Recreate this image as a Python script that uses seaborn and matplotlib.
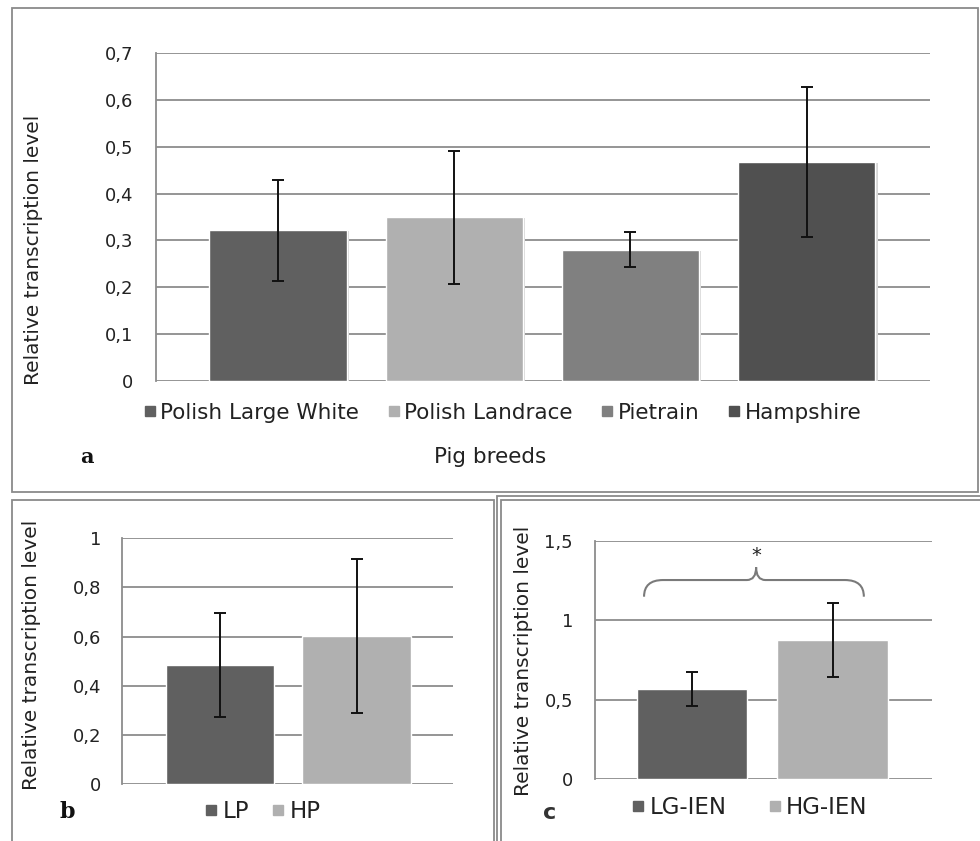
import matplotlib
matplotlib.use("Agg")
import matplotlib.pyplot as plt
import seaborn as sns
from matplotlib.lines import Line2D
from matplotlib.patches import Rectangle, PathPatch
from matplotlib.path import Path
from matplotlib import patheffects as pe

# ---------------- data ----------------
breeds = ["Polish Large White", "Polish Landrace", "Pietrain", "Hampshire"]
breed_vals = [0.322, 0.349, 0.280, 0.467]
breed_err = [0.108, 0.143, 0.037, 0.160]
breed_colors = ["#606060", "#b0b0b0", "#808080", "#505050"]
yticks_a = [0, 0.1, 0.2, 0.3, 0.4, 0.5, 0.6, 0.7]
ylabels_a = ["0", "0,1", "0,2", "0,3", "0,4", "0,5", "0,6", "0,7"]

groups_b = ["LP", "HP"]
vals_b = [0.483, 0.602]
err_b = [0.212, 0.313]
colors_b = ["#606060", "#b0b0b0"]
yticks_b = [0, 0.2, 0.4, 0.6, 0.8, 1.0]
ylabels_b = ["0", "0,2", "0,4", "0,6", "0,8", "1"]

groups_c = ["LG-IEN", "HG-IEN"]
vals_c = [0.567, 0.876]
err_c = [0.110, 0.231]
colors_c = ["#606060", "#b0b0b0"]
yticks_c = [0, 0.5, 1.0, 1.5]
ylabels_c = ["0", "0,5", "1", "1,5"]

ylab = "Relative transcription level"

# ---------------- figure ----------------
sns.set_theme(style="white")
plt.rcParams["font.family"] = ["DejaVu Sans"]
W, H = 980, 841
fig = plt.figure(figsize=(W / 100, H / 100), dpi=100)
fig.patch.set_facecolor("white")

def fx(px):
    return px / W

def fy(py):
    return 1 - py / H

def ax_rect(l, t, r, b):
    return [fx(l), fy(b), fx(r) - fx(l), fy(t) - fy(b)]

GRID = "#8c8c8c"
TXT = "#222222"

# panel frames
def frame(l, t, r, b):
    fig.patches.append(Rectangle((fx(l), fy(b)), fx(r) - fx(l), fy(t) - fy(b),
                                 transform=fig.transFigure, fill=False,
                                 edgecolor="#8a8a8a", linewidth=1.3))

frame(12, 8, 978, 492)
frame(12, 500, 494, 845)
frame(497, 496, 985, 845)
frame(501, 500, 985, 845)


def style_axis(ax, yticks, ylabels, ylim, xlim, fs, pad):
    ax.set_ylim(*ylim)
    ax.set_xlim(*xlim)
    ax.set_yticks(yticks)
    ax.set_yticklabels(ylabels, fontsize=fs, color=TXT)
    ax.set_xticks([])
    ax.set_xlabel("")
    ax.tick_params(axis="y", length=0, pad=pad)
    ax.yaxis.grid(True, color=GRID, linewidth=1.3)
    ax.set_axisbelow(True)
    for s in ["top", "right", "bottom"]:
        ax.spines[s].set_visible(False)
    ax.spines["left"].set_color(GRID)
    ax.spines["left"].set_linewidth(1.3)
    ax.set_facecolor("white")


def draw_bars(ax, cats, vals, errs, colors, width, shadow=False):
    sns.barplot(x=cats, y=vals, hue=cats, palette=colors, width=width,
                saturation=1, legend=False, ax=ax, order=cats, hue_order=cats,
                edgecolor="white", linewidth=1.0)
    if shadow:
        for p in ax.patches:
            p.set_path_effects([pe.SimplePatchShadow(offset=(1.6, -0.6),
                                                     shadow_rgbFace="#d6d6d6", alpha=1.0),
                                pe.Normal()])
    ax.errorbar(range(len(cats)), vals, yerr=errs, fmt="none", ecolor="#111111",
                elinewidth=1.4, capsize=4, capthick=1.4, zorder=5)


def square_handles(colors):
    return [Line2D([], [], marker="s", linestyle="none", markersize=7,
                   markerfacecolor=c, markeredgecolor=c) for c in colors]

# ---------------- panel a ----------------
axa = fig.add_axes(ax_rect(155.7, 53.3, 930, 380.7))
draw_bars(axa, breeds, breed_vals, breed_err, breed_colors, 0.78, shadow=True)
style_axis(axa, yticks_a, ylabels_a, (0, 0.7), (-0.695, 3.70), 13, 16)
axa.set_ylabel(ylab, fontsize=14.5, color=TXT)
axa.yaxis.set_label_coords(-0.145, 0.40)
leg = axa.legend(square_handles(breed_colors), breeds, loc="center",
                 bbox_to_anchor=(fx(503), fy(413)), bbox_transform=fig.transFigure,
                 ncol=4, frameon=False, fontsize=15.5, handlelength=0.5,
                 handletextpad=0.25, columnspacing=1.35)
for t in leg.get_texts():
    t.set_color(TXT)
fig.text(fx(490), fy(457), "Pig breeds", ha="center", va="center", fontsize=15.5, color=TXT)
fig.text(fx(87), fy(457), "a", ha="center", va="center", fontsize=15,
         fontweight="bold", family="DejaVu Serif", color="#111111")

# ---------------- panel b ----------------
axb = fig.add_axes(ax_rect(122, 538.3, 453, 784))
draw_bars(axb, groups_b, vals_b, err_b, colors_b, 0.796)
style_axis(axb, yticks_b, ylabels_b, (0, 1.0), (-0.717, 1.706), 13, 15)
axb.set_ylabel(ylab, fontsize=14.5, color=TXT)
axb.yaxis.set_label_coords(-0.245, 0.525)
legb = axb.legend(square_handles(colors_b), groups_b, loc="center",
                  bbox_to_anchor=(fx(263), fy(812)), bbox_transform=fig.transFigure,
                  ncol=2, frameon=False, fontsize=16.5, handlelength=0.5,
                  handletextpad=0.25, columnspacing=1.0)
for t in legb.get_texts():
    t.set_color(TXT)
fig.text(fx(67), fy(812), "b", ha="center", va="center", fontsize=16,
         fontweight="bold", family="DejaVu Serif", color="#111111")

# ---------------- panel c ----------------
axc = fig.add_axes(ax_rect(595.3, 541, 931.7, 779))
draw_bars(axc, groups_c, vals_c, err_c, colors_c, 0.786)
style_axis(axc, yticks_c, ylabels_c, (0, 1.5), (-0.69, 1.705), 13, 16)
axc.set_ylabel(ylab, fontsize=14.5, color=TXT)
axc.yaxis.set_label_coords(-0.185, 0.496)
legc = axc.legend(square_handles(colors_c), groups_c, loc="center",
                  bbox_to_anchor=(fx(750), fy(808)), bbox_transform=fig.transFigure,
                  ncol=2, frameon=False, fontsize=16.5, handlelength=0.5,
                  handletextpad=0.25, columnspacing=1.85)
for t in legc.get_texts():
    t.set_color(TXT)
fig.text(fx(550), fy(813), "c", ha="center", va="center", fontsize=16,
         fontweight="bold", color="#333333")

# significance brace
xl, xr, xm = -0.343, 1.222, 0.455
yb, yh, yt = 1.149, 1.254, 1.335
rx, ry = 0.135, 0.066
verts = [(xl, yb), (xl, yh), (xl + rx, yh), (xm - ry, yh), (xm, yh), (xm, yt),
         (xm, yh), (xm + ry, yh), (xr - rx, yh), (xr, yh), (xr, yb)]
codes = [Path.MOVETO, Path.CURVE3, Path.CURVE3, Path.LINETO, Path.CURVE3, Path.CURVE3,
         Path.CURVE3, Path.CURVE3, Path.LINETO, Path.CURVE3, Path.CURVE3]
axc.add_patch(PathPatch(Path(verts, codes), fill=False, edgecolor="#7a7a7a",
                        linewidth=1.5, zorder=6))
axc.text(xm, 1.41, "*", ha="center", va="center", fontsize=14, color="#222222")

fig.savefig("out.png", dpi=100, facecolor="white")
